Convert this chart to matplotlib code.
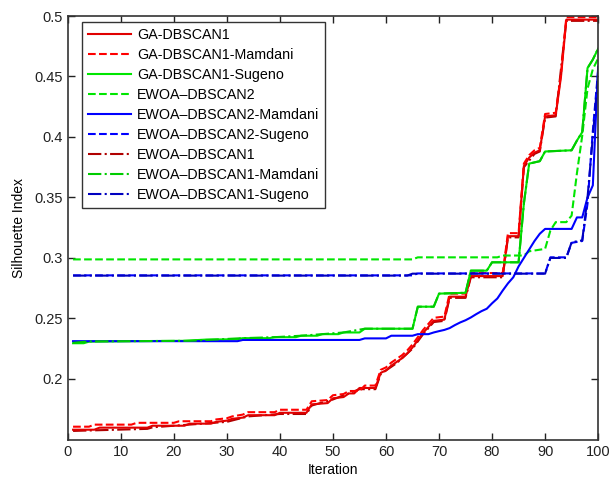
import matplotlib
matplotlib.use('Agg')
import matplotlib.pyplot as plt

plt.rcParams['font.family'] = ['Liberation Sans', 'DejaVu Sans']

# GA-DBSCAN1 (red solid)
ga1_x = [1, 5, 6, 15, 16, 22, 23, 27, 28, 30, 31, 33, 34, 39, 40, 45, 46, 49, 50, 52,
         53, 54, 55, 58, 59, 60, 61, 62, 63, 64, 65, 66, 67, 68, 69, 71, 72, 75, 76, 82,
         83, 85, 86, 87, 88, 89, 90, 92, 93, 94, 100]
ga1_y = [0.158, 0.158, 0.1597, 0.1597, 0.1613, 0.1613, 0.163, 0.163, 0.1645, 0.1655,
         0.167, 0.168, 0.17, 0.17, 0.172, 0.172, 0.179, 0.18, 0.184, 0.185,
         0.188, 0.188, 0.1925, 0.1925, 0.205, 0.207, 0.211, 0.214, 0.217, 0.221,
         0.226, 0.232, 0.238, 0.243, 0.248, 0.249, 0.268, 0.268, 0.285, 0.285,
         0.318, 0.318, 0.376, 0.383, 0.387, 0.389, 0.417, 0.418, 0.45, 0.497, 0.497]

# GA-DBSCAN1-Mamdani (red dashed)
ga1m_x = [1, 4, 5, 12, 13, 20, 21, 27, 28, 30, 31, 33, 34, 39, 40, 45, 46, 49, 50, 52,
          53, 55, 56, 58, 59, 60, 61, 62, 63, 64, 65, 66, 67, 68, 69, 71, 72, 75, 76, 82,
          83, 85, 86, 87, 88, 89, 90, 92, 93, 94, 100]
ga1m_y = [0.1605, 0.1605, 0.1622, 0.1622, 0.1637, 0.1637, 0.165, 0.165, 0.1665, 0.1675,
          0.169, 0.1705, 0.1725, 0.1725, 0.1745, 0.1745, 0.1815, 0.1825, 0.1865, 0.1875,
          0.19, 0.19, 0.1945, 0.1945, 0.2075, 0.2095, 0.2135, 0.2165, 0.2195, 0.2235,
          0.2285, 0.2345, 0.2405, 0.2455, 0.2505, 0.2515, 0.2705, 0.2705, 0.2875, 0.2875,
          0.3205, 0.3205, 0.378, 0.385, 0.389, 0.391, 0.419, 0.42, 0.452, 0.499, 0.499]

# GA-DBSCAN1-Sugeno (green solid)
ga1s_x = [1, 3, 4, 12, 22, 26, 32, 33, 38, 39, 43, 44, 47, 48, 51, 52, 55, 56, 65, 66,
          69, 70, 75, 76, 79, 80, 85, 86, 87, 89, 90, 95, 96, 97, 98, 99, 100]
ga1s_y = [0.2295, 0.2295, 0.2308, 0.2312, 0.2315, 0.2325, 0.2328, 0.2337, 0.2337, 0.2345,
          0.2345, 0.2357, 0.2357, 0.237, 0.237, 0.2384, 0.2384, 0.2415, 0.2415, 0.2597,
          0.2597, 0.2705, 0.2712, 0.2895, 0.2895, 0.2964, 0.2964, 0.345, 0.378, 0.38,
          0.388, 0.389, 0.397, 0.404, 0.457, 0.464, 0.473]

# EWOA-DBSCAN2 (green dashed)
ew2_x = [1, 65, 66, 81, 82, 86, 87, 90, 91, 92, 94, 95, 96, 97, 98, 99, 100]
ew2_y = [0.2988, 0.2988, 0.3005, 0.3005, 0.302, 0.302, 0.3055, 0.3075, 0.3227, 0.3296,
         0.3296, 0.335, 0.37, 0.401, 0.44, 0.456, 0.465]

# EWOA-DBSCAN2-Mamdani (blue solid)
ew2m_x = [1, 32, 33, 55, 56, 60, 61, 65, 66, 68, 69, 70, 71, 72, 73, 74, 75, 76, 77, 78,
          79, 80, 81, 82, 83, 84, 85, 86, 87, 88, 89, 90, 95, 96, 97, 98, 99, 100]
ew2m_y = [0.2312, 0.2312, 0.2322, 0.2322, 0.2335, 0.2335, 0.2357, 0.2357, 0.237, 0.237,
          0.2384, 0.2395, 0.2405, 0.242, 0.2445, 0.2467, 0.2485, 0.2508, 0.2535, 0.256,
          0.258, 0.2625, 0.2665, 0.273, 0.279, 0.284, 0.293, 0.300, 0.307, 0.314,
          0.32, 0.324, 0.324, 0.3335, 0.3335, 0.35, 0.36, 0.458]

# EWOA-DBSCAN2-Sugeno (blue dashed)
ew2s_x = [1, 65, 66, 90, 91, 94, 95, 97, 98, 99, 100]
ew2s_y = [0.2856, 0.2856, 0.2872, 0.2872, 0.3005, 0.3005, 0.3125, 0.314, 0.345, 0.405, 0.455]

# EWOA-DBSCAN1 (dark red dash-dot)
ew1_x = [1, 15, 16, 30, 34, 40, 45, 46, 50, 55, 58, 59, 62, 65, 67, 69, 71, 72, 75, 76,
         82, 83, 85, 86, 88, 89, 90, 92, 94, 100]
ew1_y = [0.157, 0.1587, 0.160, 0.1645, 0.169, 0.171, 0.171, 0.178, 0.183, 0.1915,
         0.1915, 0.204, 0.213, 0.225, 0.237, 0.247, 0.248, 0.267, 0.267, 0.284,
         0.284, 0.317, 0.317, 0.375, 0.386, 0.388, 0.416, 0.417, 0.496, 0.496]

# EWOA-DBSCAN1-Mamdani (green dash-dot)
ew1m_x = [1, 4, 23, 33, 39, 44, 48, 52, 56, 65, 66, 69, 70, 75, 76, 79, 80, 85, 86, 87,
          89, 90, 95, 96, 97, 98, 99, 100]
ew1m_y = [0.2298, 0.231, 0.2315, 0.2337, 0.2345, 0.2357, 0.237, 0.2384, 0.2415, 0.2415,
          0.2597, 0.2597, 0.2705, 0.2712, 0.2895, 0.2895, 0.2964, 0.2964, 0.345, 0.378,
          0.38, 0.388, 0.389, 0.397, 0.404, 0.457, 0.464, 0.473]

# EWOA-DBSCAN1-Sugeno (blue dash-dot)
ew1s_x = [1, 64, 65, 90, 91, 94, 95, 97, 98, 99, 100]
ew1s_y = [0.2854, 0.2854, 0.287, 0.287, 0.30, 0.30, 0.313, 0.3145, 0.35, 0.40, 0.452]

fig = plt.figure(figsize=(6.16, 4.78), dpi=100)
ax = fig.add_axes([0.110, 0.0795, 0.861, 0.887])

lw = 1.5
ax.plot(ew1_x, ew1_y, color='#b00000', ls='-.', lw=lw, label='EWOA\u2013DBSCAN1')
ax.plot(ga1_x, ga1_y, color='#e00000', ls='-', lw=lw, label='GA-DBSCAN1')
ax.plot(ga1m_x, ga1m_y, color='#ff0000', ls='--', lw=lw, label='GA-DBSCAN1-Mamdani')
ax.plot(ga1s_x, ga1s_y, color='#00e600', ls='-', lw=lw, label='GA-DBSCAN1-Sugeno')
ax.plot(ew2_x, ew2_y, color='#00e600', ls='--', lw=lw, label='EWOA\u2013DBSCAN2')
ax.plot(ew2m_x, ew2m_y, color='#0000ff', ls='-', lw=lw, label='EWOA\u2013DBSCAN2-Mamdani')
ax.plot(ew2s_x, ew2s_y, color='#0000ff', ls='--', lw=lw, label='EWOA\u2013DBSCAN2-Sugeno')
ax.plot(ew1m_x, ew1m_y, color='#00cc00', ls='-.', lw=lw, label='EWOA\u2013DBSCAN1-Mamdani')
ax.plot(ew1s_x, ew1s_y, color='#0000c0', ls='-.', lw=lw, label='EWOA\u2013DBSCAN1-Sugeno')

ax.set_xlim(0, 100)
ax.set_ylim(0.1495, 0.5)
ax.set_xticks(range(0, 101, 10))
yt = [0.2, 0.25, 0.3, 0.35, 0.4, 0.45, 0.5]
ax.set_yticks(yt)
ax.set_yticklabels(['0.2', '0.25', '0.3', '0.35', '0.4', '0.45', '0.5'])
ax.tick_params(direction='in', top=True, right=True, length=5, width=1, labelsize=10.5, colors='#222222')
for s in ax.spines.values():
    s.set_linewidth(1.2)
    s.set_color('#333333')

ax.set_xlabel('Iteration', fontsize=10, labelpad=3)
ax.set_ylabel('Silhouette Index', fontsize=10, labelpad=6)

# legend in the original order
order = ['GA-DBSCAN1', 'GA-DBSCAN1-Mamdani', 'GA-DBSCAN1-Sugeno', 'EWOA\u2013DBSCAN2',
         'EWOA\u2013DBSCAN2-Mamdani', 'EWOA\u2013DBSCAN2-Sugeno', 'EWOA\u2013DBSCAN1',
         'EWOA\u2013DBSCAN1-Mamdani', 'EWOA\u2013DBSCAN1-Sugeno']
handles, labels = ax.get_legend_handles_labels()
hmap = dict(zip(labels, handles))
leg = ax.legend([hmap[k] for k in order], order, loc='upper left',
                bbox_to_anchor=(0.027, 0.985), fontsize=10.3,
                frameon=True, fancybox=False, edgecolor='#333333', framealpha=1,
                handlelength=3.0, handletextpad=0.45, labelspacing=0.42, borderpad=0.4,
                borderaxespad=0)
leg.get_frame().set_linewidth(1.0)

fig.savefig('out.png', dpi=100)
